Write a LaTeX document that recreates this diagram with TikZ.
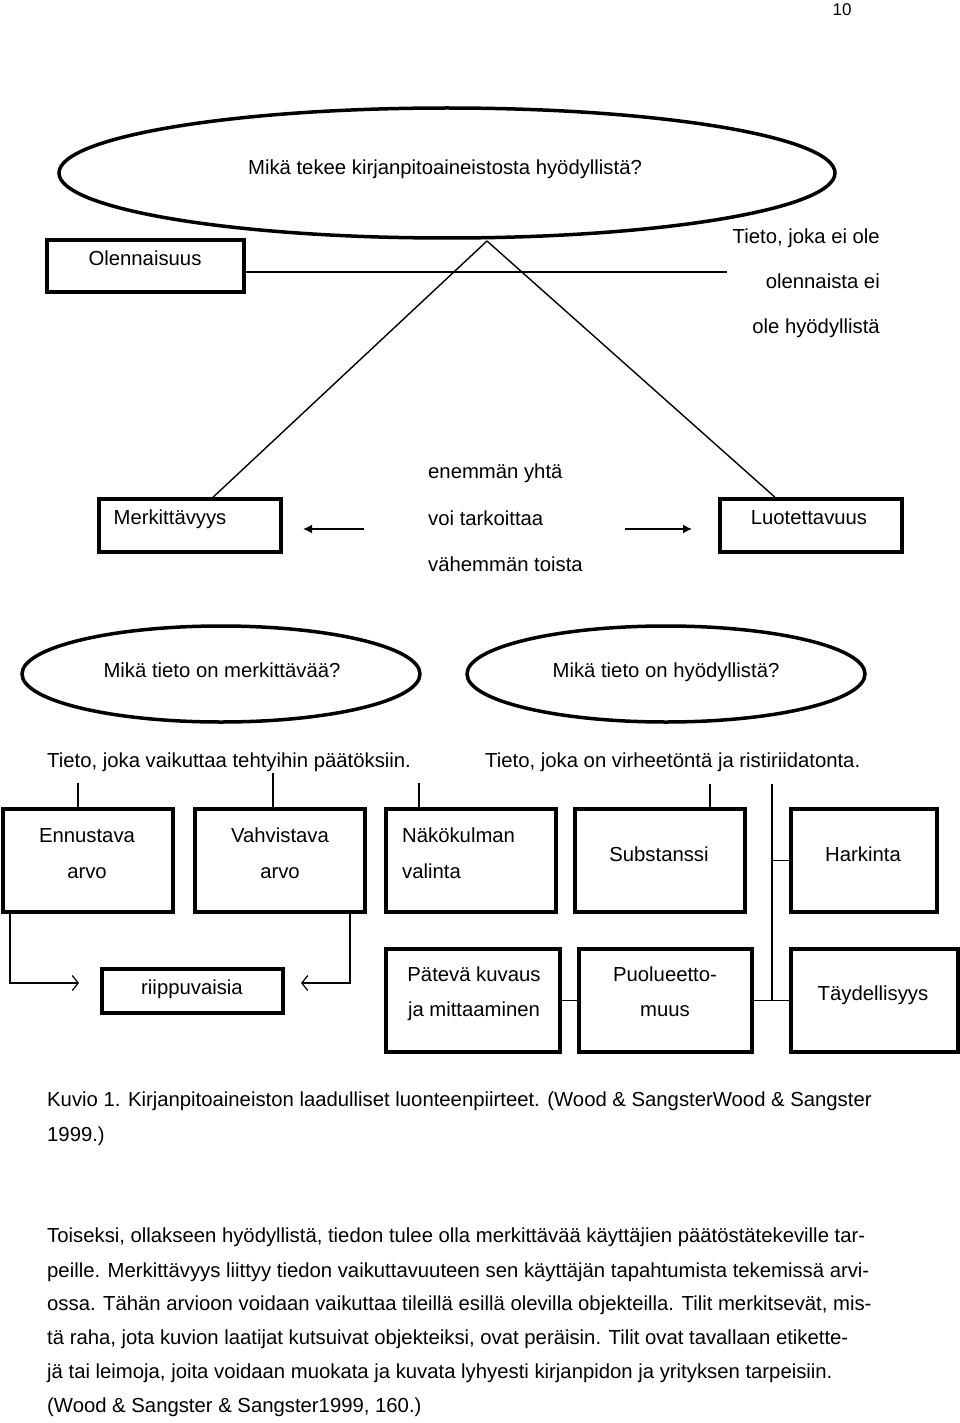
\documentclass[tikz,border=0pt]{standalone}
\usepackage{fontspec}
\setmainfont{Liberation Sans}
\usetikzlibrary{shapes.geometric,arrows.meta}
\begin{document}
\begin{tikzpicture}[x=1pt,y=-1pt,
  txt/.style={inner sep=0pt, text height=14pt, text depth=5pt, font=\fontsize{20.3}{24}\selectfont},
  box/.style={draw, line width=3.5pt, inner sep=0pt},
  oval/.style={draw, ellipse, line width=3.5pt, inner sep=0pt},
  conn/.style={line width=1.2pt},
  tri/.style={line width=1.4pt},
  fillarrow/.style={line width=1.6pt, -{Latex[length=9pt,width=9pt]}},
  openarrow/.style={line width=1.2pt, -{Straight Barb[length=6pt,width=15pt]}}]
\useasboundingbox (0,0) rectangle (960,1423);

% page number
\node[txt, font=\fontsize{17}{20}\selectfont] (pagenum) at (842,11) {10};

% top ellipse
\node[oval, minimum width=776pt, minimum height=130pt] (top) at (447,173) {};
\node[txt] (toptext) at (445,170) {Mikä tekee kirjanpitoaineistosta hyödyllistä?};

% Olennaisuus
\node[box, minimum width=197pt, minimum height=52pt] (ol) at (145.5,266) {};
\node[txt] (oltext) at (145,261) {Olennaisuus};
\coordinate (olend) at (727,272);
\draw[conn] ([yshift=-6pt]ol.east) -- (olend);
\node[txt, anchor=east] (t1) at (880,239) {Tieto, joka ei ole};
\node[txt, anchor=east] (t2) at (880,284) {olennaista ei};
\node[txt, anchor=east] (t3) at (880,329) {ole hyödyllistä};

% Merkittavyys / Luotettavuus
\node[box, minimum width=182pt, minimum height=53pt] (mk) at (190,525.5) {};
\node[txt] (mktext) at (170,520) {Merkittävyys};
\node[box, minimum width=182pt, minimum height=53pt] (lu) at (811,525.5) {};
\node[txt] (lutext) at (809,520) {Luotettavuus};

\coordinate (apex) at (487,241);
\draw[tri] (apex) -- ([xshift=23pt]mk.north);
\draw[tri] (apex) -- ([xshift=-36pt]lu.north);

\node[txt, anchor=west] (m1) at (428,474) {enemmän yhtä};
\node[txt, anchor=west] (m2) at (428,521) {voi tarkoittaa};
\node[txt, anchor=west] (m3) at (428,567) {vähemmän toista};

\coordinate (la) at (364,529);
\coordinate (lat) at (303,529);
\coordinate (ra) at (625,529);
\coordinate (rat) at (692,529);
\draw[fillarrow] (la) -- (lat);
\draw[fillarrow] (ra) -- (rat);

% middle ellipses
\node[oval, minimum width=398pt, minimum height=96pt] (e1) at (221,674) {};
\node[txt] (e1text) at (222,673) {Mikä tieto on merkittävää?};
\node[oval, minimum width=398pt, minimum height=96pt] (e2) at (666,674) {};
\node[txt] (e2text) at (666,673) {Mikä tieto on hyödyllistä?};

\node[txt, anchor=west] (d1) at (47,763) {Tieto, joka vaikuttaa tehtyihin päätöksiin.};
\node[txt, anchor=west] (d2) at (485,763) {Tieto, joka on virheetöntä ja ristiriidatonta.};

% row 1 boxes
\node[box, minimum width=170pt, minimum height=103pt] (en) at (88,860.5) {};
\node[txt] (en1) at (87,838) {Ennustava};
\node[txt] (en2) at (87,874) {arvo};
\node[box, minimum width=170pt, minimum height=103pt] (va) at (280,860.5) {};
\node[txt] (va1) at (280,838) {Vahvistava};
\node[txt] (va2) at (280,874) {arvo};
\node[box, minimum width=170pt, minimum height=103pt] (nk) at (471,860.5) {};
\node[txt, anchor=west] (nk1) at (402,838) {Näkökulman};
\node[txt, anchor=west] (nk2) at (402,874) {valinta};
\node[box, minimum width=170pt, minimum height=103pt] (su) at (660,860.5) {};
\node[txt] (sutext) at (659,857) {Substanssi};
\node[box, minimum width=146pt, minimum height=103pt] (hk) at (864,860.5) {};
\node[txt] (hktext) at (863,857) {Harkinta};

% short vertical lines
\coordinate (s1) at (78,783);
\coordinate (s2) at (273,773);
\coordinate (s3) at (419,783);
\coordinate (s4) at (710,784);
\coordinate (s5) at (772,784);
\coordinate (s5b) at (772,1001);
\coordinate (s5m) at (772,860.5);
\draw[conn] (s1) -- (s1 |- en.north);
\draw[conn] (s2) -- (s2 |- va.north);
\draw[conn] (s3) -- (s3 |- nk.north);
\draw[conn] (s4) -- (s4 |- su.north);
\draw[conn] (s5) -- (s5b);
\draw[conn] (s5m) -- (hk.west);

% row 2 boxes
\node[box, minimum width=181pt, minimum height=44pt] (ri) at (192.5,991) {};
\node[txt] (ritext) at (192,990) {riippuvaisia};
\node[box, minimum width=174pt, minimum height=103pt] (pv) at (473,1000.5) {};
\node[txt] (pv1) at (474,977) {Pätevä kuvaus};
\node[txt] (pv2) at (474,1012) {ja mittaaminen};
\node[box, minimum width=173pt, minimum height=103pt] (pu) at (665.5,1000.5) {};
\node[txt] (pu1) at (665,977) {Puolueetto-};
\node[txt] (pu2) at (665,1012) {muus};
\node[box, minimum width=167pt, minimum height=103pt] (td) at (874.5,1000.5) {};
\node[txt] (tdtext) at (873,996) {Täydellisyys};

\draw[conn] (pv.east) -- (pu.west);
\draw[conn] (pu.east) -- (td.west);

\coordinate (enl) at (10,983);
\coordinate (ent) at (79,983);
\coordinate (var) at (350,983);
\coordinate (vat) at (301,983);
\draw[openarrow] (enl |- en.south) -- (enl) -- (ent);
\draw[openarrow] (var |- va.south) -- (var) -- (vat);

% caption and paragraph
\node[txt, anchor=west] (cap1) at (47,1102) {Kuvio 1. Kirjanpitoaineiston laadulliset luonteenpiirteet. (Wood \& SangsterWood \& Sangster};
\node[txt, anchor=west] (cap2) at (47,1137) {1999.)};
\node[txt, anchor=west] (p1) at (47,1238) {Toiseksi, ollakseen hyödyllistä, tiedon tulee olla merkittävää käyttäjien päätöstätekeville tar-};
\node[txt, anchor=west] (p2) at (47,1273) {peille. Merkittävyys liittyy tiedon vaikuttavuuteen sen käyttäjän tapahtumista tekemissä arvi-};
\node[txt, anchor=west] (p3) at (47,1306) {ossa. Tähän arvioon voidaan vaikuttaa tileillä esillä olevilla objekteilla. Tilit merkitsevät, mis-};
\node[txt, anchor=west] (p4) at (47,1340) {tä raha, jota kuvion laatijat kutsuivat objekteiksi, ovat peräisin. Tilit ovat tavallaan etikette-};
\node[txt, anchor=west] (p5) at (47,1374) {jä tai leimoja, joita voidaan muokata ja kuvata lyhyesti kirjanpidon ja yrityksen tarpeisiin.};
\node[txt, anchor=west] (p6) at (47,1408) {(Wood \& Sangster \& Sangster1999, 160.)};
\end{tikzpicture}
\end{document}
